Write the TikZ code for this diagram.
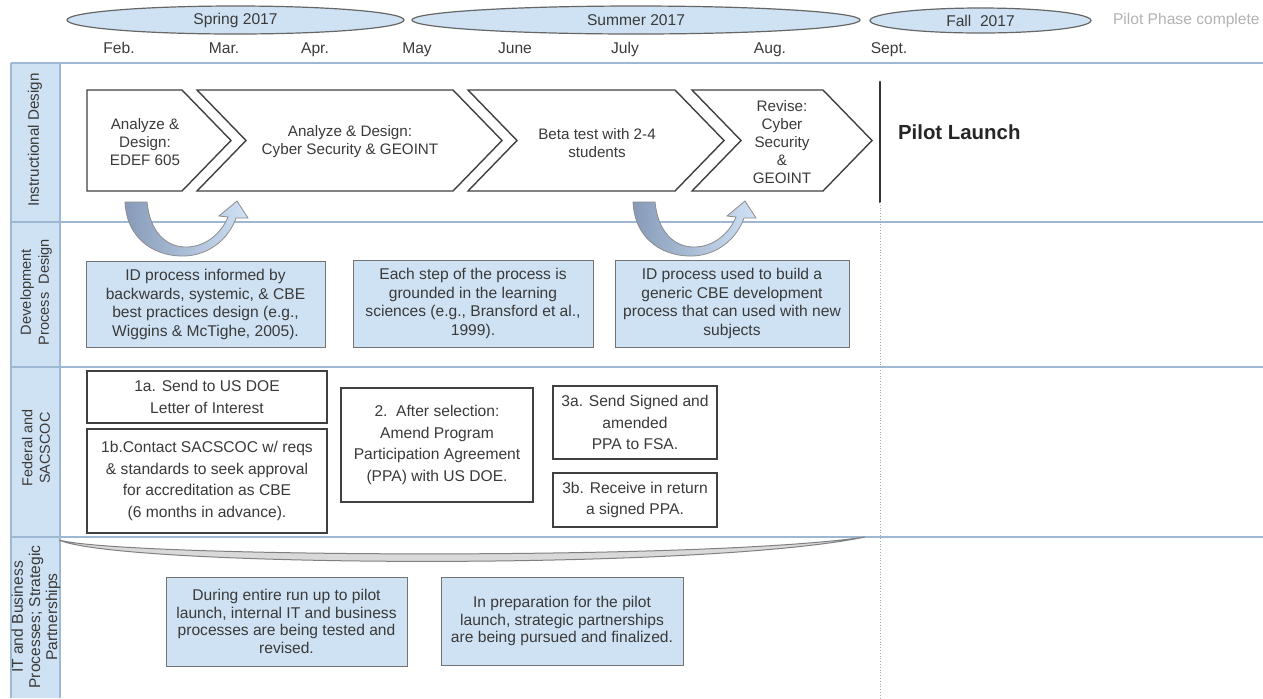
\documentclass[tikz,border=0pt]{standalone}
\usepackage{fontspec}
\setmainfont{Liberation Sans}
\usetikzlibrary{shapes.geometric}
\definecolor{paleblue}{RGB}{207,226,243}
\definecolor{rowblue}{RGB}{158,184,212}
\definecolor{inkgray}{RGB}{58,58,58}
\definecolor{arrowdark}{RGB}{135,155,185}
\definecolor{arrowlight}{RGB}{208,226,245}
\tikzset{
  season/.style={ellipse, draw=black!60, line width=0.6pt, fill=paleblue, inner sep=0pt, text=inkgray, font=\fontsize{7.8}{9}\selectfont},
  month/.style={anchor=base, text=inkgray, font=\fontsize{7.8}{9}\selectfont},
  rowline/.style={draw=rowblue, line width=1.1pt},
  lanelabel/.style={rotate=90, align=center, text=inkgray, font=\fontsize{7.6}{9.4}\selectfont},
  chev/.style={draw=black!75, fill=white, line width=0.7pt, line join=miter},
  chevtxt/.style={align=center, text=inkgray, font=\fontsize{7.6}{9}\selectfont},
  notebox/.style={draw=black!55, fill=paleblue, line width=0.5pt, align=center, inner sep=0pt, text=inkgray, font=\fontsize{7.8}{9.2}\selectfont},
  stepbox/.style={draw=black!75, fill=white, line width=0.6pt, align=center, inner sep=0pt, text=inkgray, font=\fontsize{7.8}{10.8}\selectfont},
  bendarrow/.style={draw=black!45, line width=0.4pt, left color=arrowdark, right color=arrowlight},
}
\begin{document}
\begin{tikzpicture}[x=0.5pt, y=-0.5pt]
  \useasboundingbox (0,0) rectangle (1263,698);
  % lane column and row lines
  \fill[paleblue] (11,63) rectangle (60,698);
  \draw[rowline] (11,63) -- (11,698);
  \draw[rowline] (60,63) -- (60,698);
  \foreach \y in {63,222,367,537}
    \draw[rowline] (11,\y) -- (1263,\y);
  \node[lanelabel] (lane1) at (35,140) {Instructional Design};
  \node[lanelabel, font=\fontsize{7.3}{9}\selectfont] (lane2) at (36,292) {Development\\Process\ \ Design};
  \node[lanelabel, font=\fontsize{7.2}{8.8}\selectfont] (lane3) at (36,448) {Federal and\\SACSCOC};
  \node[lanelabel, font=\fontsize{7.8}{8.6}\selectfont] (lane4) at (36,617) {IT and Business\\Processes; Strategic\\Partnerships};
  % seasons and months
  \node[season, minimum width=168.5pt, minimum height=14pt] (spring) at (235.5,20) {Spring 2017};
  \node[season, minimum width=224pt, minimum height=14pt] (summer) at (636,20) {Summer 2017};
  \node[season, minimum width=110.5pt, minimum height=12.5pt] (fall) at (980.5,20.5) {Fall\ \ 2017};
  \node[month, text=black!30, anchor=west] (done) at (1106,20) {Pilot Phase complete};
  \foreach \m/\x in {Feb./119, Mar./224, Apr./315, May/417, June/515, July/625, Aug./770, Sept./889}
    \node[month] (m-\x) at (\x,53) {\m};
  % instructional design chevrons
  \draw[chev] (87,90) -- (182,90) -- (231,140.5) -- (182,191) -- (87,191) -- cycle;
  \draw[chev] (197,90) -- (453,90) -- (502,140.5) -- (453,191) -- (197,191) -- (246,140.5) -- cycle;
  \draw[chev] (468,90) -- (675,90) -- (724,140.5) -- (675,191) -- (468,191) -- (517,140.5) -- cycle;
  \draw[chev] (692,90) -- (823,90) -- (872,140.5) -- (823,191) -- (692,191) -- (741,140.5) -- cycle;
  \node[chevtxt] (edef) at (145,142) {Analyze \&\\Design:\\EDEF 605};
  \node[chevtxt] (cyber) at (350,142) {Analyze \& Design:\\Cyber Security \& GEOINT};
  \node[chevtxt] (beta) at (597,143) {Beta test with 2-4\\students};
  \node[chevtxt] (revise) at (782,142) {Revise:\\Cyber\\Security\\\&\\GEOINT};
  % pilot launch marker
  \draw[line width=1.4pt, black!80, line cap=round] (880,82) coordinate (bartop) -- (880,202) coordinate (barfoot);
  \draw[densely dotted, black!35] (barfoot) -- (880,698);
  \node[anchor=west, text=black!85, font=\fontsize{10.2}{12}\selectfont\bfseries] (launch) at (891,132) {Pilot Launch};
  % curved arrows
  \foreach \dx in {0,508}
    \draw[bendarrow, shift={(\dx,0)}] (125,202) .. controls (127,242) and (158,257) .. (185,256)
      .. controls (210,255) and (229,238) .. (236,218) -- (248,218) -- (237,201) -- (219,216) -- (228,217)
      .. controls (221,234) and (205,247) .. (186,247)
      .. controls (166,247) and (150,232) .. (147,202) -- cycle;
  % development process notes
  \node[notebox, minimum width=119.5pt, minimum height=43pt] (informed) at (205.5,304.5)
    {ID process informed by\\backwards, systemic, \& CBE\\best practices design (e.g.,\\Wiggins \& McTighe, 2005).};
  \node[notebox, minimum width=120pt, minimum height=43.5pt] (grounded) at (473,303.5)
    {Each step of the process is\\grounded in the learning\\sciences (e.g., Bransford et al.,\\1999).};
  \node[notebox, minimum width=117pt, minimum height=43.5pt] (generic) at (732,303.5)
    {ID process used to build a\\generic CBE development\\process that can used with new\\subjects};
  % federal steps
  \node[stepbox, minimum width=120pt, minimum height=26pt] (s1a) at (207,397) {1a. Send to US DOE\\Letter of Interest};
  \node[stepbox, minimum width=120pt, minimum height=52pt] (s1b) at (207,481)
    {1b.Contact SACSCOC w/ reqs\\\& standards to seek approval\\for accreditation as CBE\\(6 months in advance).};
  \node[stepbox, minimum width=96pt, minimum height=57pt] (s2) at (437,445)
    {2.\ \ After selection:\\Amend Program\\Participation Agreement\\(PPA) with US DOE.};
  \node[stepbox, minimum width=82pt, minimum height=36.5pt] (s3a) at (635,422.5) {3a. Send Signed and\\amended\\PPA to FSA.};
  \node[stepbox, minimum width=82pt, minimum height=27pt] (s3b) at (635,500) {3b. Receive in return\\a signed PPA.};
  % IT and partnerships
  \draw[draw=black!50, fill=black!15, line width=0.5pt] (59,540) .. controls (120,567) and (700,571) .. (865,537)
    .. controls (700,561) and (120,557) .. (59,540) -- cycle;
  \node[notebox, minimum width=120.5pt, minimum height=44.5pt, font=\fontsize{7.8}{8.9}\selectfont] (runup) at (286.5,621.5)
    {During entire run up to pilot\\launch, internal IT and business\\processes are being tested and\\revised.};
  \node[notebox, minimum width=121pt, minimum height=44pt, font=\fontsize{7.8}{8.9}\selectfont] (partners) at (562,621)
    {In preparation for the pilot\\launch, strategic partnerships\\are being pursued and finalized.};
\end{tikzpicture}
\end{document}
